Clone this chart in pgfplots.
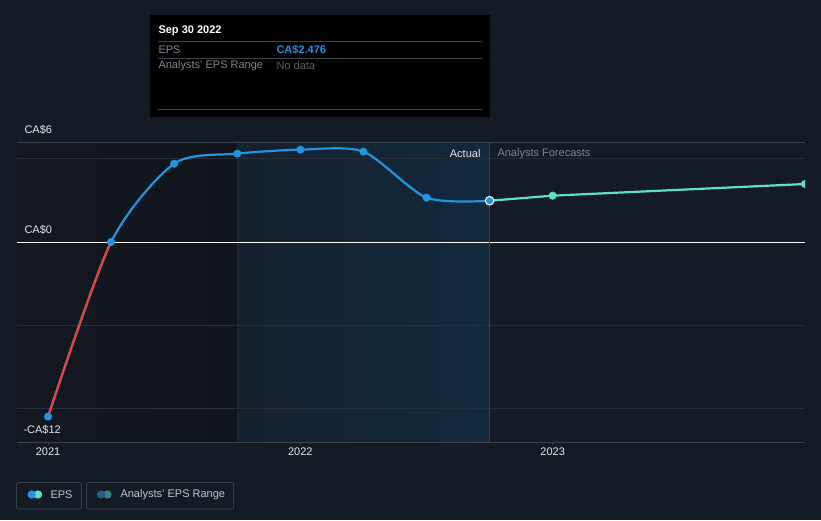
\documentclass[border=0pt]{standalone}
\usepackage{pgfplots}
\pgfplotsset{compat=1.18}
\usepackage{fontspec}
\setmainfont{Liberation Sans}
\definecolor{bg}{RGB}{21,27,36}
\definecolor{darkL}{RGB}{20,25,33}
\definecolor{darkR}{RGB}{16,20,27}
\definecolor{gridc}{RGB}{40,46,55}
\definecolor{gridl}{RGB}{62,68,77}
\definecolor{epsblue}{RGB}{35,148,223}
\definecolor{epsteal}{RGB}{94,224,200}
\definecolor{epsred}{RGB}{232,64,64}
\definecolor{txt}{RGB}{230,232,235}
\definecolor{dimtxt}{RGB}{130,135,142}
\definecolor{shadeL}{RGB}{20,33,47}
\definecolor{shadeR}{RGB}{19,41,61}
\definecolor{cursor}{RGB}{42,74,104}
\definecolor{legbox}{RGB}{58,64,73}
\definecolor{rngblue}{RGB}{36,92,136}
\definecolor{rngteal}{RGB}{58,130,122}
\pgfplotstableread{
x y
2021.0 -10.48
2021.25 0
2021.5 4.7
2021.75 5.3
2022.0 5.54
2022.25 5.42
2022.5 2.66
2022.75 2.476
}\actual
\pgfplotstableread{
x y
2022.75 2.476
2023.0 2.78
2024.0 3.48
}\forecast
\begin{document}
\begin{tikzpicture}[x=1pt,y=1pt,font=\fontsize{11}{13}\selectfont]
\fill[bg] (0,0) rectangle (821,520);
\begin{axis}[
  at={(17pt,78pt)}, anchor=south west,
  scale only axis, width=788pt, height=300pt,
  xmin=2020.877, xmax=2024.0, ymin=-12, ymax=6,
  axis line style={draw=none},
  xtick={2021,2022,2023},
  xticklabels={2021,2022,2023},
  xtick pos=bottom, tick align=outside,
  major tick length=3pt,
  xtick style={draw=gridl, line width=0.8pt},
  xticklabel style={text=txt, font=\fontsize{11}{13}\selectfont, yshift=1pt},
  ytick=\empty,
  clip marker paths=true,
]
% darker past region
\addplot[draw=none, left color=darkL, right color=darkR] coordinates {(2020.877,-12) (2020.877,6) (2021.75,6) (2021.75,-12)} -- cycle;
% highlighted past-year band
\addplot[draw=none, left color=shadeL, right color=shadeR] coordinates {(2021.75,-12) (2021.75,6) (2022.75,6) (2022.75,-12)} -- cycle;
\draw[shadeL!85!white!20!shadeL, line width=0.6pt] (axis cs:2021.75,-12) -- (axis cs:2021.75,6);
% grid lines
\draw[gridc, line width=0.8pt] (axis cs:2020.877,5) -- (axis cs:2024,5);
\draw[gridc, line width=0.8pt] (axis cs:2020.877,-5) -- (axis cs:2024,-5);
\draw[gridc, line width=0.8pt] (axis cs:2020.877,-10) -- (axis cs:2024,-10);
\draw[gridl, line width=0.8pt] (axis cs:2020.877,6) -- (axis cs:2024,6);
\draw[gridl, line width=0.8pt] (axis cs:2020.877,-12) -- (axis cs:2024,-12);
\draw[white, line width=0.9pt] (axis cs:2020.877,0) -- (axis cs:2024,0);
% cursor line
\draw[cursor, line width=0.8pt] (axis cs:2022.75,-12) -- (axis cs:2022.75,7.5);
% actual EPS
\addplot[epsblue, line width=2.2pt, smooth, tension=0.45] table {\actual};
\begin{scope}
\clip (axis cs:2020.8,-12.5) rectangle (axis cs:2021.25,0);
\addplot[epsred, line width=2.2pt, smooth, tension=0.45] table {\actual};
\end{scope}
% forecast
\addplot[epsteal, line width=2.2pt] table {\forecast};
\addplot[only marks, mark=*, mark size=3.8pt, mark options={fill=epsteal, draw=epsteal}] table[skip first n=1] {\forecast};
\addplot[only marks, mark=*, mark size=3.8pt, mark options={fill=epsblue, draw=epsblue}] coordinates {
 (2021.0,-10.48) (2021.25,0) (2021.5,4.7) (2021.75,5.3) (2022.0,5.54) (2022.25,5.42) (2022.5,2.66)};
\addplot[only marks, mark=*, mark size=4.3pt, mark options={fill=epsblue, draw=white, line width=1pt}] coordinates {(2022.75,2.476)};
\end{axis}
% y labels
\node[anchor=west, text=txt] at (21,520-130) {CA\$6};
\node[anchor=west, text=txt] at (21,520-230) {CA\$0};
\node[anchor=west, text=txt] at (20,520-430) {-CA\$12};
% Actual / forecasts
\node[anchor=east, text=txt] at (484,520-154) {Actual};
\node[anchor=west, text=dimtxt] at (494,520-154) {Analysts Forecasts};
% tooltip
\fill[black] (150,520-15.5) rectangle (490,520-117);
\node[anchor=west, text=white, font=\fontsize{11}{13}\selectfont\bfseries] at (155,520-31) {Sep 30 2022};
\draw[gridl, line width=0.7pt] (158,520-41.7) -- (482,520-41.7);
\node[anchor=west, text=dimtxt] at (155,520-49.5) {EPS};
\node[anchor=west, text=epsblue, font=\fontsize{11}{13}\selectfont\bfseries] at (273,520-49.5) {CA\$2.476};
\draw[gridl, line width=0.7pt] (158,520-58.3) -- (482,520-58.3);
\node[anchor=west, text=dimtxt] at (155,520-66) {Analysts' EPS Range};
\node[anchor=west, text=dimtxt!70!black] at (273,520-66) {No data};
\draw[gridl, line width=0.7pt] (158,520-109.3) -- (482,520-109.3);
% legend
\draw[legbox, line width=0.8pt, rounded corners=2pt] (16.5,520-482.5) rectangle (81.5,520-509);
\fill[epsteal] (38,520-494.5) circle (4.2);
\fill[epsblue] (31.7,520-494.5) circle (4.2);
\node[anchor=west, text=txt!85!black] at (47,520-494.5) {EPS};
\draw[legbox, line width=0.8pt, rounded corners=2pt] (86.5,520-482.5) rectangle (233.5,520-509);
\fill[rngteal] (107.5,520-494.5) circle (4.2);
\fill[rngblue] (101,520-494.5) circle (4.2);
\node[anchor=west, text=txt!85!black] at (117,520-494.5) {Analysts' EPS Range};
\end{tikzpicture}
\end{document}
